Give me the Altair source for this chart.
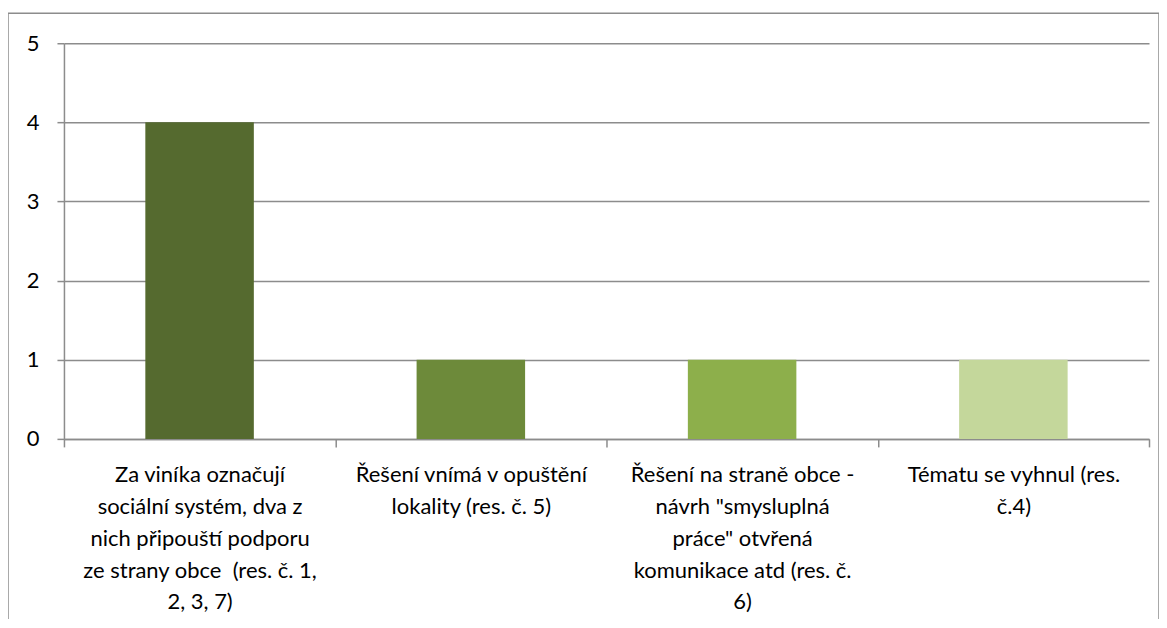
import altair as alt
import pandas as pd

categories = [
    "Za viníka označují|sociální systém, dva z|nich připouští podporu|ze strany obce \u00a0(res. č. 1,|2, 3, 7)",
    "Řešení vnímá v opuštění|lokality (res. č. 5)",
    "Řešení na straně obce -|návrh \"smysluplná|práce\" otvřená|komunikace atd (res. č.|6)",
    "Tématu se vyhnul (res.|č.4)",
]
values = [4, 1, 1, 1]
colors = ["#556A2F", "#6D8A3A", "#8DAF4B", "#C4D79B"]

df = pd.DataFrame({"cat": categories, "val": values, "col": colors})

FONT = "Lato"
GRID = "#8C8C8C"

bars = alt.Chart(df).mark_bar(width=alt.RelativeBandSize(0.4)).encode(
    x=alt.X(
        "cat:N",
        sort=categories,
        scale=alt.Scale(paddingInner=0, paddingOuter=0),
        axis=alt.Axis(
            title=None,
            labelAngle=0,
            labelLimit=0,
            labelExpr="split(datum.label, '|')",
            labelFont=FONT,
            labelFontSize=22,
            labelLineHeight=31.8,
            labelColor="#000000",
            labelPadding=18,
            ticks=True,
            tickBand="extent",
            tickSize=8,
            tickWidth=1.5,
            tickColor=GRID,
            domainColor=GRID,
            domainWidth=1.5,
            grid=False,
        ),
    ),
    y=alt.Y(
        "val:Q",
        scale=alt.Scale(domain=[0, 5]),
        axis=alt.Axis(
            title=None,
            values=[0, 1, 2, 3, 4, 5],
            labelFont=FONT,
            labelFontSize=22,
            labelColor="#000000",
            labelPadding=18,
            tickSize=7,
            tickWidth=1.5,
            tickColor=GRID,
            domainColor=GRID,
            domainWidth=1.5,
            grid=True,
            gridColor=GRID,
            gridWidth=1.5,
        ),
    ),
    color=alt.Color("col:N", scale=None, legend=None),
)

border = alt.Chart(pd.DataFrame({"a": [0]})).mark_rect(
    fill=None, stroke=GRID, strokeWidth=1.5
).encode(
    x=alt.value(-56),
    x2=alt.value(1096),
    y=alt.value(-30),
    y2=alt.value(640),
)

chart = alt.layer(border, bars).properties(
    width=1086,
    height=396,
    autosize=alt.AutoSizeParams(type="none"),
    padding={"left": 56, "top": 35, "right": 10, "bottom": 180},
).configure_view(stroke=None)

chart.save("out.html", embed_options={"renderer": "svg", "actions": False})
